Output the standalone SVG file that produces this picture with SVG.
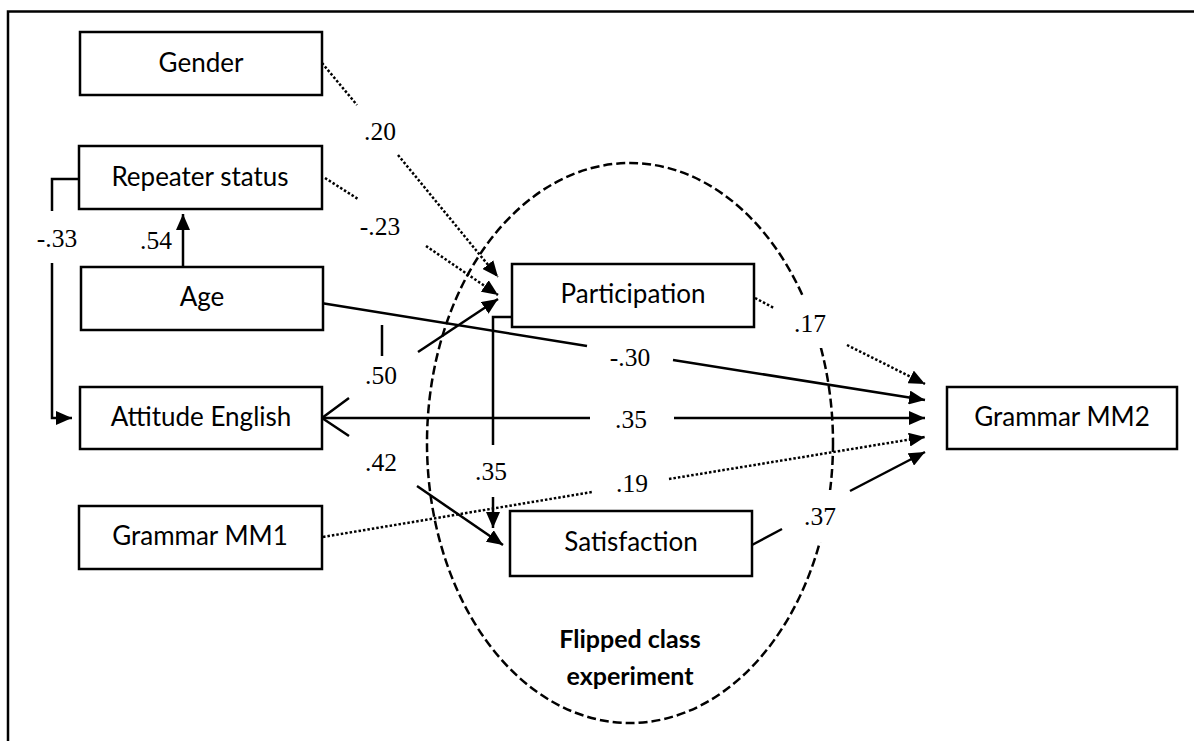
<svg xmlns="http://www.w3.org/2000/svg" width="1194" height="741" viewBox="0 0 1194 741">
<style>
.box{fill:#fff;stroke:#000;stroke-width:2.5}
.lbl{font-family:Lato,"Open Sans",sans-serif;font-size:26px;fill:#000;text-anchor:middle}
.num{font-family:"Liberation Serif","Times New Roman",serif;font-size:25.5px;fill:#000;text-anchor:middle}
.ttl{font-family:Lato,"Open Sans",sans-serif;font-size:25px;font-weight:bold;fill:#000;text-anchor:middle}
.s{fill:none;stroke:#000;stroke-width:2.5}
.d{fill:none;stroke:#000;stroke-width:2.5;stroke-dasharray:2.5 2}
.e{fill:none;stroke:#000;stroke-width:2.5;stroke-dasharray:9 4}
.gap{fill:#fff;stroke:none}
</style>
<defs>
<marker id="ah" markerUnits="userSpaceOnUse" markerWidth="18" markerHeight="14" refX="16" refY="7" orient="auto">
<path d="M0,0 L16,7 L0,14 Z" fill="#000"/>
</marker>
</defs>
<rect width="1194" height="741" fill="#fff"/>
<path d="M8,741 V11.5 H1194" class="s"/>

<g id="experiment">
<ellipse cx="630" cy="443" rx="203" ry="280" class="e"/>
<rect x="775" y="296" width="72" height="52" class="gap"/>
<rect x="785" y="490" width="63" height="52" class="gap"/>
<text x="630" y="648" class="ttl">Flipped class</text>
<text x="630" y="685" class="ttl">experiment</text>
</g>

<g id="connectors">
<!-- Gender -> Participation .20 -->
<path d="M322,63 L357,105" class="d"/>
<path d="M398,155 L498,277" class="d" marker-end="url(#ah)"/>
<text x="380" y="140" class="num">.20</text>
<!-- Repeater -> Participation -.23 -->
<path d="M325,178 L358,199" class="d"/>
<path d="M426,246 L498,295" class="d" marker-end="url(#ah)"/>
<text x="380" y="235" class="num">-.23</text>
<!-- Repeater -> Attitude -.33 -->
<path d="M80,179 H52 V211" class="s"/>
<path d="M52,263 V418 H72" class="s" marker-end="url(#ah)"/>
<text x="57" y="247" class="num">-.33</text>
<!-- Age -> Repeater .54 -->
<path d="M183,267 V214" class="s" marker-end="url(#ah)"/>
<text x="156" y="249" class="num">.54</text>
<!-- Attitude -> Participation .50 -->
<path d="M382,325 V356" class="s"/>
<path d="M418,352 L498,299" class="s" marker-end="url(#ah)"/>
<text x="381" y="384" class="num">.50</text>
<!-- Age -> MM2 -.30 -->
<path d="M321,303 L587,346" class="s"/>
<path d="M673,360 L925,400" class="s" marker-end="url(#ah)"/>
<text x="630" y="366" class="num">-.30</text>
<!-- MM2 <-> Attitude .35 -->
<path d="M322,418 H590" class="s"/>
<path d="M349,398 L322,418 L349,436" class="s"/>
<path d="M674,418 H925" class="s" marker-end="url(#ah)"/>
<text x="631" y="428" class="num">.35</text>
<!-- Participation -> Satisfaction .35 -->
<path d="M512,317 H493 V445" class="s"/>
<path d="M493,497 V528" class="s" marker-end="url(#ah)"/>
<text x="491" y="480" class="num">.35</text>
<!-- Attitude -> Satisfaction .42 -->
<path d="M417,486 L503,545" class="s" marker-end="url(#ah)"/>
<text x="381" y="471" class="num">.42</text>
<!-- MM1 -> MM2 .19 -->
<path d="M323,537 L592,492" class="d"/>
<path d="M669,479 L925,437" class="d" marker-end="url(#ah)"/>
<text x="632" y="492" class="num">.19</text>
<!-- Participation -> MM2 .17 -->
<path d="M755,298 L774,308" class="d"/>
<path d="M847,345 L925,384" class="d" marker-end="url(#ah)"/>
<text x="810" y="332" class="num">.17</text>
<!-- Satisfaction -> MM2 .37 -->
<path d="M752,545 L782,529" class="s"/>
<path d="M850,491 L925,452" class="s" marker-end="url(#ah)"/>
<text x="820" y="525" class="num">.37</text>
</g>

<g id="gender"><rect x="80" y="32" width="242" height="63" class="box"/><text x="201" y="72" class="lbl">Gender</text></g>
<g id="repeater"><rect x="79" y="146" width="243" height="63" class="box"/><text x="200" y="186" class="lbl">Repeater status</text></g>
<g id="age"><rect x="81" y="267" width="242" height="63" class="box"/><text x="202" y="306" class="lbl">Age</text></g>
<g id="attitude"><rect x="80" y="387" width="242" height="62" class="box"/><text x="201" y="426" class="lbl">Attitude English</text></g>
<g id="mm1"><rect x="79" y="506" width="243" height="63" class="box"/><text x="200" y="545" class="lbl">Grammar MM1</text></g>
<g id="participation"><rect x="512" y="264" width="242" height="63" class="box"/><text x="633" y="303" class="lbl">Participation</text></g>
<g id="satisfaction"><rect x="510" y="511" width="242" height="65" class="box"/><text x="631" y="551" class="lbl">Satisfaction</text></g>
<g id="mm2"><rect x="947" y="387" width="230" height="62" class="box"/><text x="1062" y="426" class="lbl">Grammar MM2</text></g>
</svg>
